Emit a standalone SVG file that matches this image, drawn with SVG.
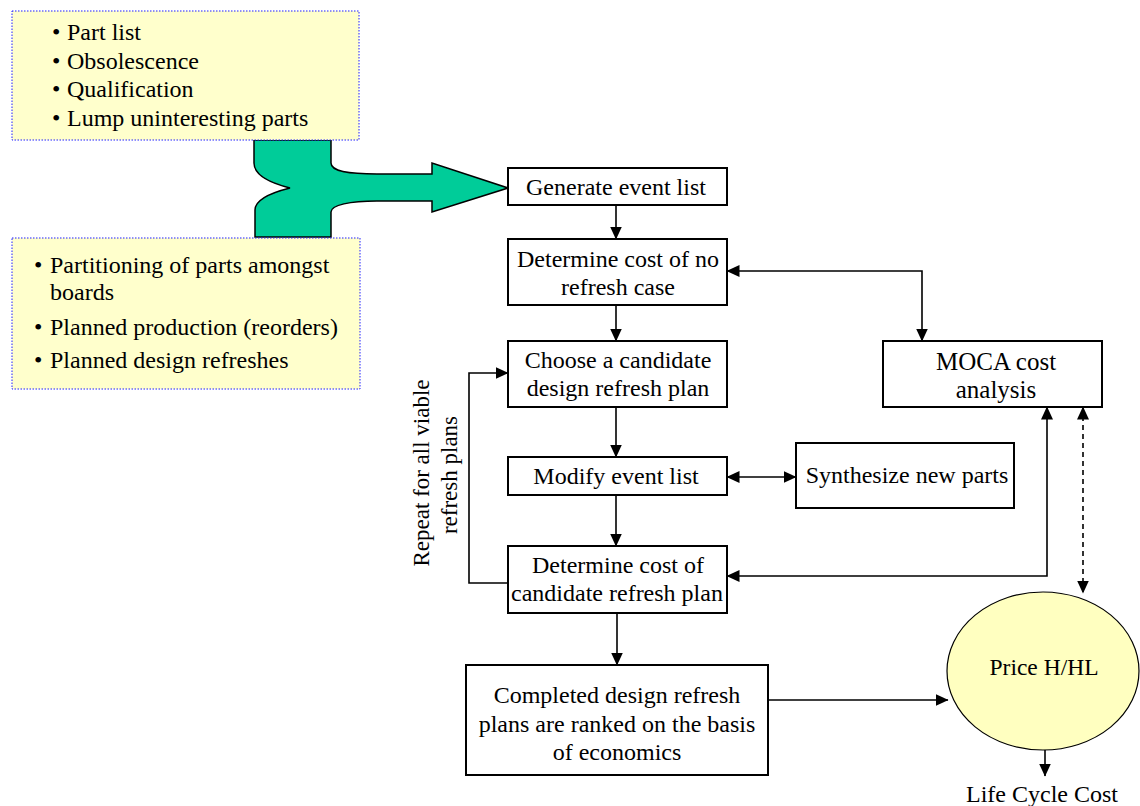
<svg xmlns="http://www.w3.org/2000/svg" width="1140" height="806" viewBox="0 0 1140 806">
<style>
text{font-family:"Liberation Serif","Times New Roman",serif;fill:#000;}
.t{font-size:24px;text-anchor:middle;}
.b{font-size:24px;}
.box{fill:#fff;stroke:#000;stroke-width:2;}
.note{fill:#FFFFCC;stroke:#2020FF;stroke-width:1;stroke-dasharray:1.5 1.5;}
.c{fill:none;stroke:#000;stroke-width:1.6;}
.arr{marker-end:url(#ah);}
.both{marker-start:url(#ah);marker-end:url(#ah);}
</style>
<defs>
<marker id="ah" markerUnits="userSpaceOnUse" markerWidth="13" markerHeight="12" refX="12.5" refY="6" orient="auto-start-reverse" viewBox="0 0 13 12">
<path d="M0,0 L13,6 L0,12 Z" fill="#000"/>
</marker>
</defs>
<rect width="1140" height="806" fill="#fff"/>

<g id="merge-arrow">
<path d="M254,140 V163 C254,175 270,183 290,188 C270,193 255,200 255,210 V237 H331 V212 C331,205 350,201 377,201 H432 V212 L508,188 L432,163 V174 H377 C350,174 331,172 331,163 V140 Z" fill="#00CC99" stroke="#000" stroke-width="1.5"/>
</g>

<g id="inputs-parts">
<rect class="note" x="12" y="11" width="347" height="129"/>
<text class="b" x="52" y="40">•</text><text class="b" x="67" y="40">Part list</text>
<text class="b" x="52" y="69">•</text><text class="b" x="67" y="69">Obsolescence</text>
<text class="b" x="52" y="97">•</text><text class="b" x="67" y="97">Qualification</text>
<text class="b" x="52" y="126">•</text><text class="b" x="67" y="126">Lump uninteresting parts</text>
</g>

<g id="inputs-plans">
<rect class="note" x="12" y="238" width="348" height="151"/>
<text class="b" x="34" y="273">•</text><text class="b" x="50" y="273">Partitioning of parts amongst</text>
<text class="b" x="50" y="300">boards</text>
<text class="b" x="34" y="335">•</text><text class="b" x="50" y="335">Planned production (reorders)</text>
<text class="b" x="34" y="368">•</text><text class="b" x="50" y="368">Planned design refreshes</text>
</g>

<g id="generate">
<rect class="box" x="508" y="168" width="219" height="37"/>
<text class="t" x="616" y="195">Generate event list</text>
</g>

<g id="no-refresh">
<rect class="box" x="508" y="239" width="219" height="66"/>
<text class="t" x="618" y="267">Determine cost of no</text>
<text class="t" x="618" y="295">refresh case</text>
</g>

<g id="choose">
<rect class="box" x="508" y="341" width="219" height="66"/>
<text class="t" x="618" y="368">Choose a candidate</text>
<text class="t" x="618" y="396">design refresh plan</text>
</g>

<g id="modify">
<rect class="box" x="508" y="457" width="219" height="38"/>
<text class="t" x="616" y="484">Modify event list</text>
</g>

<g id="candidate-cost">
<rect class="box" x="508" y="546" width="219" height="67"/>
<text class="t" x="618" y="573">Determine cost of</text>
<text class="t" x="617" y="601">candidate refresh plan</text>
</g>

<g id="completed">
<rect class="box" x="466" y="665" width="302" height="110"/>
<text class="t" x="617" y="703">Completed design refresh</text>
<text class="t" x="617" y="732">plans are ranked on the basis</text>
<text class="t" x="617" y="760">of economics</text>
</g>

<g id="moca">
<rect class="box" x="883" y="341" width="219" height="66"/>
<text class="t" x="996" y="370" style="font-size:25px">MOCA cost</text>
<text class="t" x="996" y="398" style="font-size:25px">analysis</text>
</g>

<g id="synthesize">
<rect class="box" x="796" y="443" width="218" height="65"/>
<text class="t" x="907" y="483">Synthesize new parts</text>
</g>

<g id="price">
<ellipse cx="1043" cy="671" rx="96" ry="79" fill="#FFFFC0" stroke="#000" stroke-width="1.2"/>
<text class="t" x="1044" y="675" style="font-size:23.5px">Price H/HL</text>
</g>

<g id="lcc">
<text class="t" x="1042" y="802">Life Cycle Cost</text>
</g>

<g id="repeat-label">
<text class="t" transform="translate(429,473) rotate(-90)" style="font-size:23px">Repeat for all viable</text>
<text class="t" transform="translate(457,475) rotate(-90)" style="font-size:23px">refresh plans</text>
</g>

<g id="connectors">
<path class="c arr" d="M616,205 V239"/>
<path class="c arr" d="M616,305 V341"/>
<path class="c arr" d="M616,407 V457"/>
<path class="c arr" d="M616,495 V546"/>
<path class="c arr" d="M617,613 V665"/>
<path class="c both" d="M727,271 H922 V341"/>
<path class="c both" d="M727,477 H796"/>
<path class="c both" d="M727,576 H1047 V407"/>
<path class="c both" d="M1083,407 V593" stroke-dasharray="5 4"/>
<path class="c arr" d="M768,700 H948"/>
<path class="c arr" d="M1045,750 V776"/>
<path class="c arr" d="M508,583 H469 V373 H508"/>
</g>
</svg>
